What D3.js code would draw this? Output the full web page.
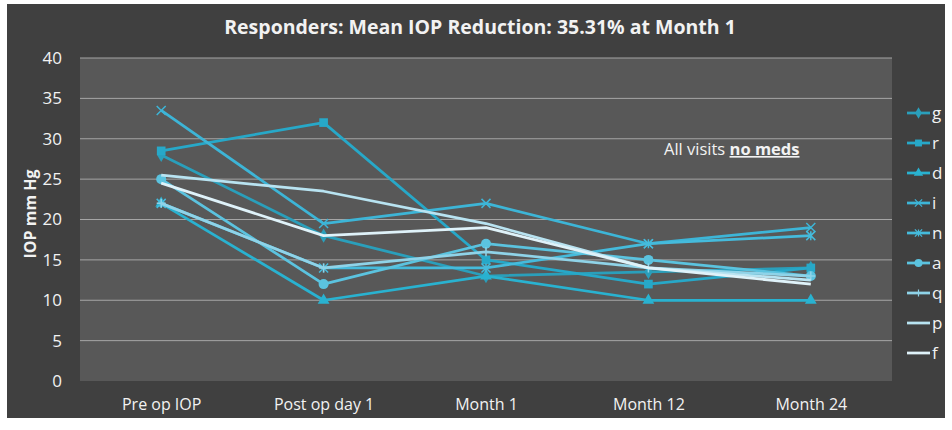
<!DOCTYPE html>
<html>
<head>
<meta charset="utf-8">
<script src="https://cdn.jsdelivr.net/npm/d3@7"></script>
<style>
  body { margin: 0; background: #fff; }
  text { font-family: "Open Sans", sans-serif; fill: #f2f2f2; }
</style>
</head>
<body>
<section></section>
<script>
// visit labels on the x axis
const visits = ["Pre op IOP", "Post op day 1", "Month 1", "Month 12", "Month 24"];
const yTicks = [0, 5, 10, 15, 20, 25, 30, 35, 40];

// IOP per patient, one array per visit order
const g = [28, 18, 13, 13.5, 14];
const r = [28.5, 32, 15, 12, 14];
const d = [22, 10, 13, 10, 10];
const i = [33.5, 19.5, 22, 17, 19];
const n = [22, 14, 14, 17, 18];
const a = [25, 12, 17, 15, 13];
const q = [22, 14, 16, 14, 13];
const p = [25.5, 23.5, 19.5, 14, 12.5];
const f = [24.5, 18, 19, 14, 12];

const seriesNames = ["g", "r", "d", "i", "n", "a", "q", "p", "f"];
const seriesValues = [g, r, d, i, n, a, q, p, f];
const seriesColors = ["#2a9fbb", "#27a8c8", "#29b2d0", "#3db5d7", "#45bbdc", "#5bc3df", "#8fd3e8", "#b8e3f1", "#dff2f9"];
const seriesMarkers = ["diamond", "square", "triangle", "x", "star", "circle", "plus", "none", "none"];

const W = 952, H = 430;
const plot = { left: 80, right: 892, top: 58, bottom: 381 };

const svg = d3.select("section").append("svg")
    .attr("width", W)
    .attr("height", H);

// outer dark panel + lighter plot area
svg.append("rect").attr("x", 7).attr("y", 4).attr("width", 938).attr("height", 414).attr("fill", "#404040");
svg.append("rect")
    .attr("x", plot.left).attr("y", plot.top)
    .attr("width", plot.right - plot.left).attr("height", plot.bottom - plot.top)
    .attr("fill", "#585858");

const x = d3.scalePoint().domain(visits).range([plot.left, plot.right]).padding(0.5);
const y = d3.scaleLinear().domain([0, 40]).range([plot.bottom, plot.top]);

// gridlines
svg.append("g")
    .selectAll("line")
    .data(yTicks.filter(t => t > 0))
    .enter()
    .append("line")
    .attr("x1", plot.left).attr("x2", plot.right)
    .attr("y1", t => y(t)).attr("y2", t => y(t))
    .attr("stroke", "#a5a5a5")
    .attr("stroke-width", 1);

// y axis
const yAxis = svg.append("g")
    .attr("transform", "translate(" + plot.left + ",0)")
    .call(d3.axisLeft(y).tickValues(yTicks).tickSize(0).tickPadding(18));
yAxis.select(".domain").remove();
yAxis.selectAll("text").style("font-size", "17px").attr("fill", "#f2f2f2").style("font-family", "Open Sans");

// x axis
const xAxis = svg.append("g")
    .attr("transform", "translate(0," + plot.bottom + ")")
    .call(d3.axisBottom(x).tickSize(0).tickPadding(18));
xAxis.select(".domain").remove();
xAxis.selectAll("text").style("font-size", "16px").attr("fill", "#f2f2f2").style("font-family", "Open Sans");

// titles
svg.append("text")
    .attr("x", 480).attr("y", 34)
    .attr("text-anchor", "middle")
    .style("font-size", "19.5px")
    .style("font-weight", "bold")
    .text("Responders: Mean IOP Reduction: 35.31% at Month 1");

svg.append("text")
    .attr("transform", "translate(36,214)rotate(-90)")
    .attr("text-anchor", "middle")
    .style("font-size", "16px")
    .style("font-weight", "bold")
    .text("IOP mm Hg");

const note = svg.append("text")
    .attr("x", 664).attr("y", 155)
    .style("font-size", "16.5px");
note.append("tspan").text("All visits ");
note.append("tspan").style("font-weight", "bold").style("text-decoration", "underline").text("no meds");

function drawMarker(sel, type, color) {
    const s = 4.5;
    if (type === "none") return;
    if (type === "diamond") {
        sel.append("path").attr("d", d3.symbol(d3.symbolDiamond, 60)()).attr("fill", color);
    } else if (type === "square") {
        sel.append("path").attr("d", d3.symbol(d3.symbolSquare, 75)()).attr("fill", color);
    } else if (type === "triangle") {
        sel.append("path").attr("d", d3.symbol(d3.symbolTriangle, 60)()).attr("fill", color);
    } else if (type === "circle") {
        sel.append("circle").attr("r", 5).attr("fill", color);
    } else {
        let path = "";
        if (type === "x" || type === "star") path += "M" + -s + "," + -s + "L" + s + "," + s + "M" + -s + "," + s + "L" + s + "," + -s;
        if (type === "star" || type === "plus") path += "M0," + -s + "L0," + s;
        if (type === "plus") path += "M" + -s + ",0L" + s + ",0";
        sel.append("path").attr("d", path).attr("stroke", color).attr("stroke-width", 1.5).attr("fill", "none");
    }
}

const line = d3.line()
    .x((v, k) => x(visits[k]))
    .y(v => y(v));

seriesValues.forEach(function (vals, k) {
    const grp = svg.append("g");
    grp.append("path")
        .attr("d", line(vals))
        .attr("fill", "none")
        .attr("stroke", seriesColors[k])
        .attr("stroke-width", 2.75)
        .attr("stroke-linejoin", "round");
    vals.forEach(function (v, j) {
        const m = grp.append("g").attr("transform", "translate(" + x(visits[j]) + "," + y(v) + ")");
        drawMarker(m, seriesMarkers[k], seriesColors[k]);
    });
});

// legend
const legend = svg.append("g")
    .selectAll("g")
    .data(seriesNames)
    .enter()
    .append("g")
    .attr("transform", (nm, k) => "translate(907," + (113 + k * 30) + ")");

legend.append("line")
    .attr("x1", 0).attr("x2", 23)
    .attr("stroke", (nm, k) => seriesColors[k])
    .attr("stroke-width", 2.75);
legend.each(function (nm, k) {
    const m = d3.select(this).append("g").attr("transform", "translate(11.5,0) scale(0.8)");
    drawMarker(m, seriesMarkers[k], seriesColors[k]);
});
legend.append("text")
    .attr("x", 25).attr("dy", "0.35em")
    .style("font-size", "17px")
    .text(nm => nm);
</script>
</body>
</html>
